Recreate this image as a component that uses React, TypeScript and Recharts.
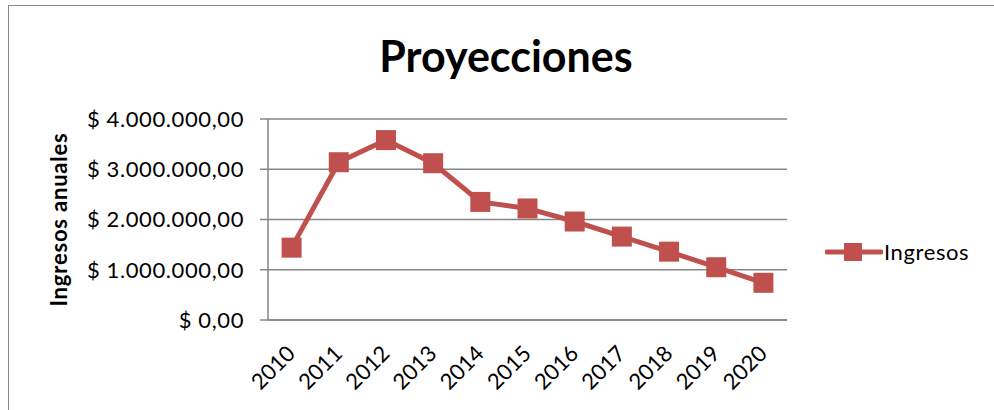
import { CartesianGrid, Line, LineChart, XAxis, YAxis } from "recharts"

const years = ["2010", "2011", "2012", "2013", "2014", "2015", "2016", "2017", "2018", "2019", "2020"]
const ingresos = [1440000, 3140000, 3580000, 3120000, 2350000, 2220000, 1960000, 1660000, 1360000, 1050000, 740000]
const yTicks = [0, 1000000, 2000000, 3000000, 4000000]
const seriesName = "Ingresos"

const data = years.map((year, i) => ({ year, ingresos: ingresos[i] }))

const RED = "#C0504D"
const GRID = "#868686"
const FONT = "Lato, 'Noto Sans', sans-serif"

function money(v: number) {
  const whole = Math.round(v)
    .toString()
    .replace(/\B(?=(\d{3})+(?!\d))/g, ".")
  return `$ ${whole},00`
}

function SquareDot(props: any) {
  const { cx, cy } = props
  if (cx == null || cy == null) return null
  const s = 20
  return <rect x={cx - s / 2} y={cy - s / 2} width={s} height={s} fill={RED} />
}

function YearTick(props: any) {
  const { x, y, payload } = props
  return (
    <g transform={`translate(${x + 5},${y + 35})`}>
      <text textAnchor="end" transform="rotate(-45)" fontSize={22} fill="#000" fontFamily={FONT}>
        {payload.value}
      </text>
    </g>
  )
}

function LegendBox() {
  return (
    <div
      style={{
        position: "absolute",
        left: 825,
        top: 238,
        display: "flex",
        alignItems: "center",
        fontFamily: FONT,
        fontSize: 22,
        letterSpacing: 0.6,
      }}
    >
      <svg width={58} height={24}>
        <line x1={2} y1={12} x2={56} y2={12} stroke={RED} strokeWidth={5} strokeLinecap="round" />
        <rect x={19} y={3} width={18} height={18} fill={RED} />
      </svg>
      <span style={{ marginLeft: 1, color: "#000" }}>{seriesName}</span>
    </div>
  )
}

export default function App() {
  return (
    <div style={{ position: "absolute", left: 0, top: 0, width: 994, height: 410, overflow: "hidden", background: "#fff" }}>
      <div
        style={{
          position: "absolute",
          left: 8,
          top: 5,
          width: 1100,
          height: 500,
          border: "1.5px solid #878787",
        }}
      />
      <div
        style={{
          position: "absolute",
          left: 0,
          top: 34,
          width: 1012,
          textAlign: "center",
          fontFamily: FONT,
          fontWeight: 700,
          fontSize: 43,
          lineHeight: 1,
          color: "#000",
        }}
      >
        Proyecciones
      </div>
      <div style={{ position: "absolute", left: 0, top: 0 }}>
        <LineChart width={994} height={410} data={data} margin={{ top: 119, right: 207, bottom: 0, left: 0 }}>
          <CartesianGrid stroke={GRID} strokeWidth={1.5} vertical={false} />
          <XAxis
            dataKey="year"
            scale="band"
            tickLine={false}
            tickSize={0}
            tickMargin={0}
            axisLine={{ stroke: GRID, strokeWidth: 1.5 }}
            tick={<YearTick />}
            interval={0}
            height={90}
          />
          <YAxis
            domain={[0, 4000000]}
            ticks={yTicks}
            interval={0}
            width={268}
            tickSize={8}
            tickMargin={16}
            tickLine={{ stroke: GRID, strokeWidth: 1.5 }}
            axisLine={{ stroke: GRID, strokeWidth: 1.5 }}
            tickFormatter={money}
            tick={{ fontSize: 22, fill: "#000", fontFamily: FONT, letterSpacing: 0.6 }}
            label={{
              content: (p: any) => {
                const vb = p.viewBox || {}
                const cy = (vb.y ?? 119) + (vb.height ?? 201) / 2
                return (
                  <text
                    x={67}
                    y={cy}
                    transform={`rotate(-90 67 ${cy})`}
                    textAnchor="middle"
                    fontFamily={FONT}
                    fontWeight={700}
                    fontSize={22}
                    letterSpacing={0.8}
                    fill="#000"
                  >
                    Ingresos anuales
                  </text>
                )
              },
            }}
          />
          <Line
            dataKey="ingresos"
            name={seriesName}
            stroke={RED}
            strokeWidth={5}
            dot={<SquareDot />}
            activeDot={false}
            isAnimationActive={false}
          />
        </LineChart>
      </div>
      <LegendBox />
    </div>
  )
}
